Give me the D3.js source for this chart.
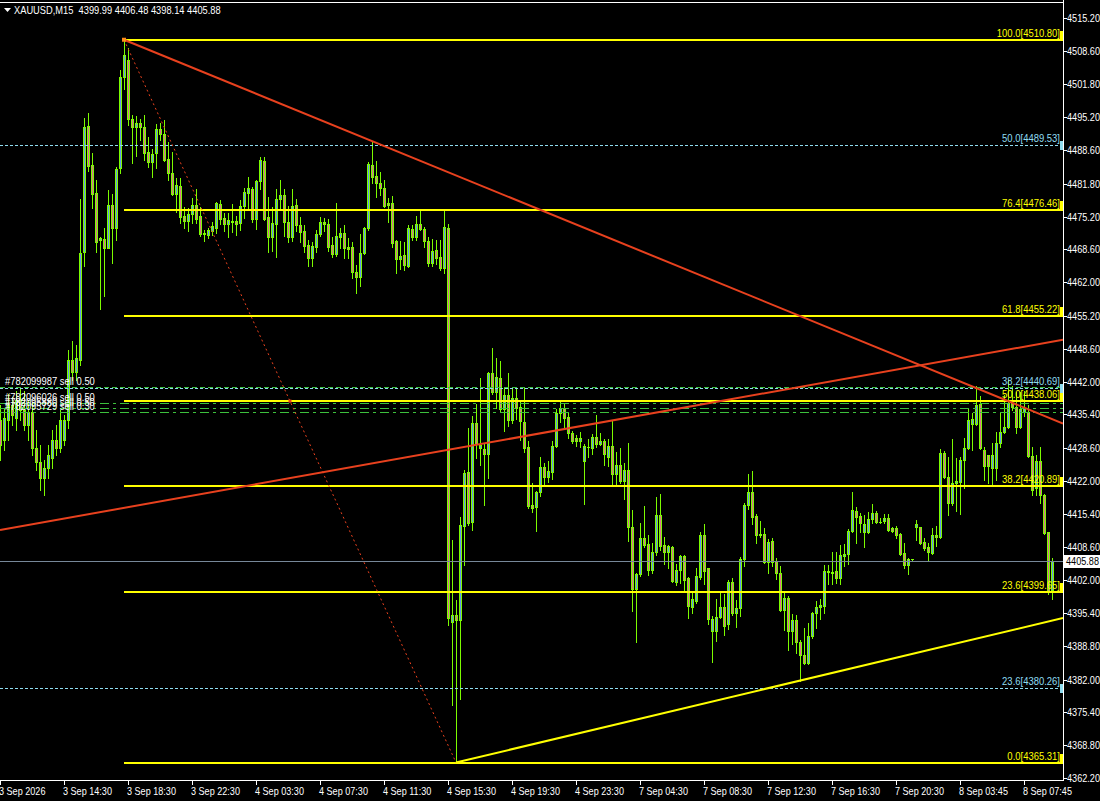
<!DOCTYPE html>
<html><head><meta charset="utf-8">
<script src="https://cdn.jsdelivr.net/npm/d3@7"></script>
<style>html,body{margin:0;padding:0;background:#000;overflow:hidden}text{white-space:pre}</style>
</head><body>
<svg id="c" width="1100" height="801"></svg>
<script>
// ---- data (XAUUSD M15, one value per bar) ----
const opens = [
4434.2,4430.2,4434.2,4437.2,4434.6,4438.2,4436.2,4433.2,4435.8,4428.6,
4425.8,4422.6,4424.6,4426.6,4430.2,4428.6,4430.2,4434.2,4446.4,4444.0,
4446.4,4468.1,4493.4,4485.6,4480.0,4470.5,4470.7,4468.9,4477.5,4472.9,
4485.0,4503.2,4506.8,4494.8,4493.2,4494.0,4493.2,4488.2,4486.2,4488.0,
4492.8,4491.8,4486.8,4484.0,4479.8,4481.4,4475.3,4474.3,4475.7,4477.5,
4475.3,4471.7,4471.5,4472.3,4472.9,4477.7,4474.9,4473.7,4474.3,4474.3,
4473.9,4477.3,4480.0,4480.8,4474.7,4482.4,4486.4,4475.1,4471.1,4473.7,
4478.8,4479.6,4474.1,4471.1,4477.5,4473.5,4472.3,4469.5,4466.9,4469.1,
4471.7,4474.1,4473.7,4469.5,4467.7,4471.1,4471.9,4469.1,4469.1,4464.1,
4463.1,4467.9,4472.9,4485.6,4483.4,4482.0,4481.0,4477.9,4477.9,4470.3,
4466.7,4467.5,4465.3,4472.7,4471.1,4473.7,4472.7,4470.3,4465.9,4468.5,
4467.1,4464.9,4472.9,4393.6,4395.0,4394.0,4412.9,4423.8,4413.7,4433.6,
4428.6,4428.4,4427.4,4443.8,4439.8,4442.8,4436.4,4439.2,4434.2,4438.6,
4436.8,4433.8,4428.8,4417.1,4416.7,4419.8,4424.8,4422.8,4423.8,4429.0,
4435.6,4436.6,4434.8,4431.6,4430.6,4430.0,4426.0,4428.8,4428.6,4430.8,
4429.4,4430.0,4426.8,4429.0,4423.4,4425.2,4422.0,4424.2,4412.7,4400.3,
4403.3,4410.5,4409.3,4404.1,4407.7,4415.1,4409.1,4407.7,4408.7,4401.7,
4404.1,4406.9,4402.5,4396.6,4397.8,4402.7,4411.1,4404.5,4391.8,4391.8,
4394.6,4396.6,4393.2,4401.7,4395.4,4396.4,4406.3,4417.1,4419.8,4414.9,
4411.3,4411.3,4405.7,4409.9,4405.9,4403.5,4396.0,4398.5,4391.8,4394.0,
4389.6,4387.0,4385.4,4390.8,4395.4,4396.6,4396.8,4403.7,4403.5,4403.9,
4402.5,4406.9,4407.3,4411.9,4415.9,4414.9,4411.7,4411.7,4414.3,4415.5,
4413.7,4413.9,4414.5,4412.5,4412.5,4411.3,4407.5,4405.1,4406.3,4412.7,
4412.7,4409.7,4408.7,4407.5,4411.1,4410.7,4427.6,4422.8,4417.5,4421.6,
4421.8,4426.2,4428.6,4433.4,4433.4,4437.4,4428.2,4427.2,4424.6,4424.6,
4429.6,4431.8,4432.8,4437.6,4436.8,4432.8,4435.8,4435.8,4427.0,4420.6,
4426.0,4419.2,4411.7,4399.99];
const highs = [
4437.2,4436.6,4439.4,4438.8,4440.0,4440.8,4440.0,4438.2,4437.8,4432.2,
4429.2,4426.2,4429.2,4432.2,4433.2,4436.2,4435.2,4448.4,4450.2,4449.4,
4478.8,4495.0,4496.0,4488.0,4482.6,4471.1,4472.9,4480.6,4479.8,4485.2,
4504.8,4510.8,4509.2,4495.6,4495.4,4494.8,4495.6,4491.2,4488.8,4493.8,
4494.0,4494.6,4490.2,4488.2,4483.0,4483.0,4477.1,4476.9,4479.0,4480.8,
4477.1,4472.5,4472.9,4474.1,4478.1,4478.5,4475.9,4475.9,4477.7,4475.3,
4478.5,4481.0,4483.2,4481.2,4482.6,4487.2,4487.2,4479.2,4477.1,4480.8,
4482.6,4480.8,4477.3,4480.8,4478.8,4475.1,4473.5,4470.5,4470.1,4472.5,
4475.1,4474.9,4474.7,4471.1,4477.9,4472.9,4473.5,4470.9,4470.1,4465.5,
4471.7,4473.1,4486.2,4490.2,4486.4,4484.2,4482.6,4479.0,4479.4,4470.5,
4470.3,4470.1,4473.5,4473.5,4475.3,4476.3,4473.1,4471.1,4470.7,4470.5,
4470.5,4476.3,4473.7,4410.1,4398.0,4414.7,4424.2,4432.6,4435.0,4437.4,
4442.8,4429.6,4444.0,4448.8,4446.8,4446.2,4440.8,4443.8,4440.8,4440.8,
4438.2,4440.8,4430.0,4421.6,4420.0,4426.8,4425.6,4426.0,4430.0,4436.4,
4438.0,4437.4,4435.6,4432.0,4431.2,4431.8,4429.4,4430.4,4431.4,4435.2,
4431.6,4430.4,4430.4,4434.2,4427.8,4428.6,4425.6,4429.6,4416.1,4403.5,
4413.5,4416.9,4411.1,4409.5,4418.8,4419.4,4410.7,4409.1,4408.9,4405.3,
4407.1,4407.1,4402.7,4399.5,4404.5,4411.7,4413.3,4404.5,4394.8,4398.3,
4399.7,4399.3,4402.1,4402.5,4398.0,4406.7,4417.6,4423.4,4424.0,4415.3,
4413.9,4412.5,4410.3,4410.5,4406.5,4404.9,4399.5,4398.9,4395.2,4395.0,
4390.0,4392.4,4393.4,4395.6,4397.8,4398.2,4405.1,4405.1,4407.7,4407.7,
4409.1,4409.3,4412.3,4419.8,4416.7,4415.5,4415.1,4415.7,4417.3,4415.9,
4414.5,4415.3,4415.3,4412.7,4412.9,4411.5,4409.5,4406.5,4406.3,4414.1,
4412.7,4410.5,4409.5,4412.5,4412.9,4428.4,4428.0,4426.8,4430.4,4426.6,
4426.8,4430.6,4436.4,4435.6,4441.0,4439.0,4428.8,4427.2,4429.6,4431.8,
4435.6,4439.2,4442.4,4441.0,4439.8,4439.8,4440.0,4437.2,4428.8,4427.2,
4428.8,4419.4,4411.7,4406.48];
const lows = [
4426.2,4428.2,4430.2,4433.2,4432.2,4434.2,4432.2,4430.2,4427.2,4424.2,
4420.2,4419.2,4422.6,4424.6,4427.2,4427.8,4429.2,4432.6,4442.4,4442.4,
4445.4,4465.3,4484.4,4477.0,4468.1,4456.6,4459.3,4468.9,4465.9,4470.5,
4484.0,4500.8,4493.6,4486.0,4487.4,4490.6,4486.6,4485.2,4483.2,4485.0,
4490.6,4486.4,4482.6,4479.6,4476.1,4473.9,4472.9,4472.3,4473.9,4473.9,
4471.3,4470.3,4470.9,4471.5,4471.9,4473.7,4472.3,4471.1,4472.1,4471.5,
4472.5,4474.9,4477.0,4474.1,4472.7,4480.8,4474.5,4468.1,4468.3,4467.1,
4477.0,4471.3,4470.1,4470.3,4472.3,4470.1,4468.1,4465.3,4465.3,4468.1,
4471.3,4472.3,4468.3,4467.1,4467.3,4468.9,4466.9,4466.9,4462.9,4459.9,
4461.3,4467.7,4472.5,4482.0,4479.2,4479.6,4477.1,4474.1,4469.1,4463.9,
4464.7,4464.5,4465.1,4470.5,4470.5,4472.5,4469.1,4465.3,4465.3,4465.7,
4464.5,4463.9,4393.0,4376.8,4365.31,4378.0,4405.1,4413.1,4412.1,4426.6,
4425.2,4417.1,4422.6,4439.4,4436.6,4436.0,4432.0,4433.0,4433.6,4434.4,
4430.2,4427.8,4416.5,4415.7,4411.9,4419.0,4421.2,4421.8,4422.4,4428.8,
4433.8,4432.6,4430.6,4429.6,4429.0,4428.8,4417.3,4426.8,4427.4,4428.8,
4429.2,4425.2,4425.0,4421.2,4421.2,4421.6,4418.4,4409.9,4395.8,4389.6,
4402.9,4408.7,4403.1,4403.5,4407.1,4408.1,4405.3,4404.5,4401.7,4401.1,
4401.5,4400.1,4394.4,4395.4,4397.4,4402.3,4401.3,4393.2,4385.6,4389.8,
4394.4,4391.0,4392.2,4395.0,4392.6,4394.8,4404.9,4416.3,4413.3,4409.5,
4410.7,4405.5,4403.5,4404.9,4402.3,4395.8,4392.0,4388.0,4389.2,4387.4,
4381.8,4385.2,4385.2,4390.4,4392.4,4394.2,4395.4,4401.3,4401.3,4401.5,
4401.3,4404.9,4405.3,4411.7,4409.5,4411.7,4408.7,4411.5,4413.5,4413.5,
4413.5,4413.5,4411.9,4411.7,4410.5,4407.1,4404.5,4403.3,4406.1,4410.1,
4409.3,4408.1,4406.1,4407.3,4408.9,4410.5,4422.6,4415.1,4417.1,4416.0,
4415.3,4420.6,4428.4,4428.2,4433.2,4428.4,4422.2,4421.6,4421.2,4422.2,
4428.8,4431.6,4432.6,4436.2,4431.6,4432.6,4435.0,4426.8,4419.2,4419.2,
4417.5,4411.3,4399.2,4398.14];
const closes = [
4429.2,4434.6,4437.2,4435.2,4438.2,4436.2,4433.2,4435.8,4428.6,4425.8,
4422.6,4424.6,4427.2,4430.2,4428.6,4434.2,4434.2,4446.4,4444.0,4446.8,
4467.9,4493.2,4485.4,4479.8,4470.1,4470.9,4468.9,4477.5,4472.9,4484.8,
4503.2,4507.8,4494.8,4493.2,4494.0,4493.2,4488.0,4486.2,4487.8,4492.8,
4491.8,4486.6,4484.0,4479.8,4481.6,4475.1,4474.3,4475.7,4477.5,4474.7,
4471.7,4471.9,4472.5,4473.3,4477.9,4474.7,4473.7,4474.5,4474.1,4473.7,
4477.3,4480.2,4481.0,4474.7,4482.4,4486.6,4474.7,4471.1,4473.9,4478.8,
4479.6,4474.1,4471.1,4477.3,4473.5,4472.1,4469.3,4466.9,4469.3,4471.7,
4474.1,4473.7,4469.1,4467.7,4471.3,4471.9,4468.9,4468.7,4464.1,4463.1,
4467.9,4472.9,4485.8,4483.2,4482.0,4481.0,4477.3,4477.5,4469.9,4466.7,
4467.3,4465.5,4472.9,4471.1,4473.7,4472.7,4470.3,4465.9,4468.3,4466.9,
4464.9,4473.1,4394.4,4395.0,4394.0,4413.1,4423.6,4413.5,4433.6,4429.4,
4429.2,4427.4,4443.8,4439.8,4443.0,4436.4,4439.2,4434.2,4438.6,4436.6,
4434.0,4428.6,4416.9,4416.5,4419.8,4424.8,4422.8,4424.0,4429.0,4435.6,
4436.6,4434.6,4431.6,4430.0,4430.0,4430.6,4429.0,4428.9,4430.8,4429.4,
4430.0,4427.4,4429.0,4423.4,4425.2,4422.0,4424.2,4412.7,4400.3,4403.3,
4410.5,4409.1,4404.1,4407.7,4415.1,4408.9,4407.7,4408.9,4401.9,4404.1,
4406.9,4402.1,4396.8,4398.3,4402.9,4411.1,4403.9,4394.2,4394.2,4394.6,
4396.6,4392.8,4401.7,4395.4,4396.4,4406.3,4417.1,4419.8,4414.7,4411.1,
4411.2,4405.7,4409.7,4405.7,4403.5,4396.0,4398.5,4391.8,4394.0,4389.6,
4387.0,4385.4,4390.8,4395.4,4396.6,4397.0,4403.9,4403.9,4403.7,4402.5,
4407.1,4407.3,4411.9,4416.1,4414.7,4413.5,4413.3,4414.3,4415.5,4413.7,
4413.7,4414.5,4412.1,4411.9,4411.1,4407.3,4405.1,4406.3,4406.3,4413.3,
4409.5,4408.5,4407.7,4411.1,4410.7,4427.6,4422.8,4417.5,4421.6,4422.0,
4426.2,4428.6,4434.2,4434.4,4437.2,4428.6,4425.0,4425.0,4427.2,4429.6,
4431.8,4432.8,4437.6,4436.8,4432.8,4436.4,4436.6,4427.0,4420.2,4426.0,
4419.2,4411.5,4399.6,4405.88];

const timeTickBars = [0,16,32,48,64,80,96,112,128,144,160,176,192,208,224,240,256];
const timeTickLabels = ["3 Sep 2026","3 Sep 14:30","3 Sep 18:30","3 Sep 22:30","4 Sep 03:30","4 Sep 07:30",
  "4 Sep 11:30","4 Sep 15:30","4 Sep 19:30","4 Sep 23:30","7 Sep 04:30","7 Sep 08:30","7 Sep 12:30",
  "7 Sep 16:30","7 Sep 20:30","8 Sep 03:45","8 Sep 07:45"];
const priceTicks = [4515.20,4508.60,4501.80,4495.20,4488.60,4481.80,4475.20,4468.60,4462.00,4455.20,4448.60,
  4442.00,4435.40,4428.60,4422.00,4415.40,4408.60,4402.00,4395.40,4388.80,4382.00,4375.40,4368.80,4362.20];

const fibLevels = ["100.0","76.4","61.8","50.0","38.2","23.6","0.0"];
const fibPrices = [4510.80,4476.46,4455.22,4438.06,4420.89,4399.65,4365.31];
const fibAnchorBars = [31,114];          // swing high bar, swing low bar
const fib2Levels = ["50.0","38.2","23.6"];
const fib2Prices = [4489.53,4440.69,4380.26];
const orderLabels = ["#782099987 sell 0.50","#782096026 sell 0.50","#782095880 sell 0.50","#782095729 sell 0.30"];
const orderPrices = [4440.8,4437.6,4436.7,4435.8];
const redLine1 = [[31,4510.80],[93,4490.4]];
const redLine2 = [[0,4412.1],[265.75,4450.4]];
const yellowLine = [[114,4365.31],[200,4381.8]];
const title = "XAUUSD,M15  4399.99 4406.48 4398.14 4405.88";
const lastPrice = 4405.88;

// ---- drawing ----
const PR = 1063, PB = 780;
const FONT = "'Liberation Sans','Arial',sans-serif";
const FS = '11px';
const svg = d3.select('#c');
svg.append('rect').attr('width',1100).attr('height',801).attr('fill','#000');
const x = d3.scaleLinear().domain([0,263]).range([0,1052]);
const y = d3.scaleLinear().domain([4518.8,4361.79]).range([0,PB]);
const kR = x.invert(PR);

svg.append('defs').append('clipPath').attr('id','clip')
  .append('rect').attr('x',0).attr('y',0).attr('width',PR).attr('height',PB);
const plot = svg.append('g').attr('clip-path','url(#clip)');

const WICK = '#7CFC00', BULL = '#6495ED', BEAR = '#DB7093';
const cg = plot.append('g').attr('shape-rendering','crispEdges');
const bars = d3.range(opens.length).map(i => ({i, o:opens[i], h:highs[i], l:lows[i], c:closes[i]}));
bars.forEach(d => {
  const cx = Math.round(x(d.i));
  const yH = Math.round(y(d.h)), yL = Math.round(y(d.l));
  const yO = Math.round(y(d.o)), yC = Math.round(y(d.c));
  const top = Math.min(yO,yC), bot = Math.max(yO,yC);
  cg.append('rect').attr('x',cx).attr('y',yH).attr('width',1).attr('height',Math.max(1,yL-yH+1)).attr('fill',WICK);
  cg.append('rect').attr('x',cx-1).attr('y',top).attr('width',3).attr('height',Math.max(1,bot-top+1)).attr('fill',WICK);
  if (bot-top >= 2) cg.append('rect').attr('x',cx).attr('y',top+1).attr('width',1).attr('height',bot-top-1)
     .attr('fill', d.c >= d.o ? BULL : BEAR);
});

function lineAt(pts, k){ const [[k1,p1],[k2,p2]] = pts; return p1 + (p2-p1)*(k-k1)/(k2-k1); }
function seg(pts, kA, kB){ return [[x(kA), y(lineAt(pts,kA))],[x(kB), y(lineAt(pts,kB))]]; }
const lg = d3.line();

plot.append('line').attr('x1',0).attr('x2',PR).attr('y1',Math.round(y(lastPrice))+0.5).attr('y2',Math.round(y(lastPrice))+0.5)
  .attr('stroke','#778899').attr('stroke-width',1);
orderPrices.forEach((p,i) => {
  const yy = Math.round(y(p))+0.5;
  plot.append('line').attr('x1',0).attr('x2',PR).attr('y1',yy).attr('y2',yy)
    .attr('stroke','#3CC03C').attr('stroke-width',1).attr('stroke-dasharray', i===0 ? '5,3' : '9,4,3,4');
});
fib2Prices.forEach(p => {
  const yy = Math.round(y(p))+0.5;
  plot.append('line').attr('x1',0).attr('x2',PR).attr('y1',yy).attr('y2',yy)
    .attr('stroke','#8FDCF0').attr('stroke-width',1).attr('stroke-dasharray','3,2');
});
fibPrices.forEach(p => {
  const yy = Math.round(y(p));
  plot.append('line').attr('x1',x(fibAnchorBars[0])).attr('x2',PR).attr('y1',yy).attr('y2',yy)
    .attr('stroke','#FFFF00').attr('stroke-width',2);
});
plot.append('path').attr('d', lg([[x(fibAnchorBars[0]), y(fibPrices[0])],[x(fibAnchorBars[1]), y(fibPrices[6])]]))
  .attr('stroke','#E8411E').attr('stroke-width',1).attr('stroke-dasharray','2,3').attr('fill','none');
plot.append('path').attr('d', lg(seg(redLine1, redLine1[0][0], kR))).attr('stroke','#E8411E').attr('stroke-width',2).attr('fill','none');
plot.append('path').attr('d', lg(seg(redLine2, x.invert(0), kR))).attr('stroke','#E8411E').attr('stroke-width',2).attr('fill','none');
plot.append('path').attr('d', lg(seg(yellowLine, yellowLine[0][0], kR))).attr('stroke','#FFFF00').attr('stroke-width',2).attr('fill','none');
plot.append('rect').attr('x',x(fibAnchorBars[0])-2).attr('y',y(fibPrices[0])-2).attr('width',4).attr('height',4).attr('fill','#FF8C1A');
const midK = (fibAnchorBars[0]+fibAnchorBars[1])/2, midP = (fibPrices[0]+fibPrices[6])/2;
plot.append('rect').attr('x',x(midK)-1.5).attr('y',y(midP)-1.5).attr('width',3).attr('height',3).attr('fill','#E8411E');

// axes
const ag = svg.append('g').attr('shape-rendering','crispEdges');
ag.append('rect').attr('x',0).attr('y',2).attr('width',PR).attr('height',1).attr('fill','#fff');
ag.append('rect').attr('x',PR).attr('y',0).attr('width',1).attr('height',PB+1).attr('fill','#fff');
ag.append('rect').attr('x',0).attr('y',PB).attr('width',PR+1).attr('height',1).attr('fill','#fff');
fibPrices.forEach(p => ag.append('rect').attr('x',PR-3).attr('y',Math.round(y(p))-9).attr('width',3).attr('height',10).attr('fill','#FFFF00'));
fib2Prices.forEach(p => ag.append('rect').attr('x',PR-3).attr('y',Math.round(y(p))-4).attr('width',3).attr('height',9).attr('fill','#8FDCF0'));
priceTicks.forEach(p => {
  ag.append('rect').attr('x',PR+1).attr('y',Math.round(y(p))).attr('width',3).attr('height',1).attr('fill','#fff');
});
timeTickBars.forEach(b => {
  ag.append('rect').attr('x',Math.round(x(b))).attr('y',PB+1).attr('width',1).attr('height',4).attr('fill','#fff');
});
const ly = Math.round(y(lastPrice));
ag.append('rect').attr('x',PR+1).attr('y',ly-6).attr('width',1100-PR-1).attr('height',13).attr('fill','#fff');

// texts: MT4-style narrow-but-tall glyphs via horizontal scaling
const tg = svg.append('g').style('font-family',FONT).style('font-size',FS);
function measure(str){ const t = tg.append('text').text(str); const w = t.node().getComputedTextLength(); t.remove(); return w; }
const kTitle = 207 / measure(title);
const kTime  = 49 / measure("3 Sep 14:30");
const kPrice = 33 / measure("4515.20");
const kFib   = 58 / measure("61.8[4455.22]");
const kOrder = 90 / measure("#782099987 sell 0.50");
function addText(str, tx, ty, fill, k, anchor){
  return tg.append('text').attr('transform',`translate(${tx},${ty}) scale(${k},1)`)
    .attr('text-anchor',anchor||'start').attr('fill',fill).text(str);
}
fibLevels.forEach((lv,i) => addText(lv+'['+fibPrices[i].toFixed(2)+']', 1060, Math.round(y(fibPrices[i]))-3, '#FFFF00', kFib, 'end'));
fib2Levels.forEach((lv,i) => addText(lv+'['+fib2Prices[i].toFixed(2)+']', 1060, Math.round(y(fib2Prices[i]))-3, '#8FDCF0', kFib, 'end'));
orderLabels.forEach((t,i) => addText(t, 5, Math.round(y(orderPrices[i]))-2, '#fff', kOrder));
priceTicks.forEach(p => addText(p.toFixed(2), 1067, Math.round(y(p))+4, '#fff', kPrice));
timeTickBars.forEach((b,i) => addText(timeTickLabels[i], Math.round(x(b))-1, 795, '#fff', kTime));
addText(lastPrice.toFixed(2), 1066, ly+4, '#000', kPrice);

svg.append('path').attr('d','M4,8L11,8L7.5,12Z').attr('fill','#fff');
addText(title, 14, 14, '#fff', kTitle);
</script>
</body></html>
